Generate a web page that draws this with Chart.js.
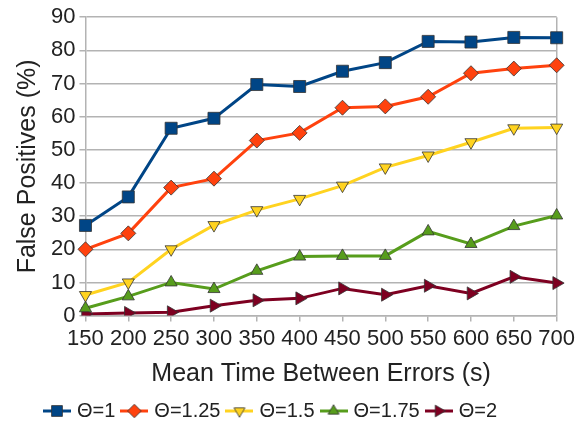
<!DOCTYPE html>
<html><head><meta charset="utf-8">
<script src="https://cdn.jsdelivr.net/npm/chart.js@4/dist/chart.umd.min.js"></script>
<style>html,body{margin:0;padding:0;background:#fff}#wrap{width:579px;height:431px}</style>
</head><body><div id="wrap"><canvas id="c" width="579" height="431"></canvas></div>
<script>
const categories = ['150','200','250','300','350','400','450','500','550','600','650','700'];
const seriesNames = ['Θ=1','Θ=1.25','Θ=1.5','Θ=1.75','Θ=2'];
const theta1    = [27.2,35.8,56.5,59.5,69.7,69.1,73.7,76.3,82.7,82.5,83.9,83.8];
const theta125  = [20.0,24.8,38.6,41.3,52.8,55.1,62.7,63.1,66.0,73.1,74.5,75.5];
const theta15   = [6.2,10.0,20.0,27.3,31.8,35.2,39.2,44.7,48.3,52.3,56.5,56.7];
const theta175  = [2.2,5.8,10.0,8.0,13.5,17.8,18.0,18.0,25.4,21.6,27.0,30.2];
const theta2    = [0.5,0.8,1.0,3.0,4.6,5.2,8.2,6.3,9.0,6.7,11.7,9.8];
const yTicks = [0,10,20,30,40,50,60,70,80,90];

const colors = ['#004586','#ff420e','#ffd320','#579d1c','#7e0021'];
const styles = [
  {ps:'rect', rot:0, r:8.5},
  {ps:'rectRot', rot:0, r:7.5},
  {ps:'triangle', rot:180, r:7},
  {ps:'triangle', rot:0, r:7},
  {ps:'triangle', rot:90, r:7.5}
];
const values = [theta1, theta125, theta15, theta175, theta2];

function legendIcon(i){
  const c = document.createElement('canvas');
  c.width = 28; c.height = 18;
  const g = c.getContext('2d');
  g.strokeStyle = colors[i]; g.lineWidth = 3;
  g.beginPath(); g.moveTo(0,9); g.lineTo(28,9); g.stroke();
  g.fillStyle = colors[i]; g.strokeStyle = '#333'; g.lineWidth = 0.8;
  Chart.helpers.drawPoint(g, {pointStyle: styles[i].ps, rotation: styles[i].rot, radius: styles[i].r*0.9, borderWidth:0.8}, 14, 9);
  return c;
}

const datasets = values.map((v,i)=>({
  label: seriesNames[i],
  data: v,
  borderColor: colors[i],
  backgroundColor: colors[i],
  borderWidth: 3,
  pointStyle: styles[i].ps,
  rotation: styles[i].rot,
  pointRadius: styles[i].r,
  pointBorderColor: '#333',
  pointBorderWidth: 0.8,
  pointBackgroundColor: colors[i],
  tension: 0
}));

const shiftLegend = {
  id: 'shiftLegend',
  afterLayout(chart){ if (chart.legend){ chart.legend.left -= 24; chart.legend.right -= 24; } }
};

const ctx = document.getElementById('c');
const grey = '#b3b3b3';
const txt = '#222';
new Chart(ctx, {
  type: 'line',
  data: {labels: categories, datasets},
  plugins: [shiftLegend],
  options: {
    responsive: false,
    animation: false,
    devicePixelRatio: 1,
    layout: {padding: {left: 13, right: 0, top: 4, bottom: 0}},
    plugins: {
      tooltip: {enabled:false},
      legend: {
        position: 'bottom',
        labels: {
          font: {family: 'Liberation Sans', size: 20},
          color: txt,
          usePointStyle: true,
          padding: 9,
          generateLabels: (chart) => chart.data.datasets.map((d,i)=>({
            text: d.label, pointStyle: legendIcon(i), datasetIndex: i,
            fillStyle: colors[i], strokeStyle: colors[i], lineWidth: 0, hidden: false, fontColor: txt
          }))
        }
      }
    },
    scales: {
      x: {
        type: 'category',
        offset: false,
        grid: {
          color: (c) => c.index === categories.length-1 ? grey : 'rgba(0,0,0,0)',
          tickColor: grey, tickLength: 6, lineWidth: 1.5, drawOnChartArea: true
        },
        border: {color: grey, width: 1.5},
        ticks: {font: {family: 'Liberation Sans', size: 22}, color: txt, maxRotation: 0, autoSkip: false, padding: 4},
        title: {display: true, text: 'Mean Time Between Errors (s)', font: {family: 'Liberation Sans', size: 25}, color: txt, padding: {top: 3, bottom: 3}}
      },
      y: {
        min: 0, max: 90,
        afterBuildTicks: (s) => { s.ticks = yTicks.map(v=>({value:v})); },
        grid: {color: grey, lineWidth: 1.5, tickLength: 6, tickColor: grey},
        border: {color: grey, width: 1.5},
        ticks: {font: {family: 'Liberation Sans', size: 22}, color: txt, padding: 4},
        title: {display: true, text: 'False Positives (%)', font: {family: 'Liberation Sans', size: 25}, color: txt, padding: {top: 0, bottom: 4}}
      }
    }
  }
});
</script>
</body></html>
